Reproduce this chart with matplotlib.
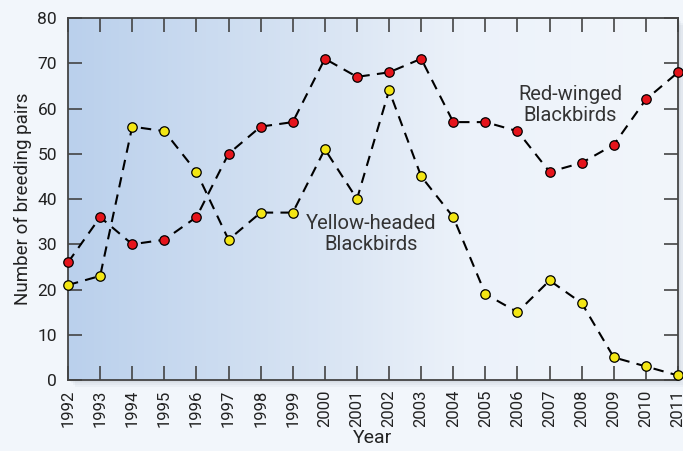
import numpy as np
import matplotlib.pyplot as plt
from matplotlib.patches import Rectangle
from matplotlib.colors import LinearSegmentedColormap

years = list(range(1992, 2012))
red_winged = [26, 36, 30, 31, 36, 50, 56, 57, 71, 67, 68, 71, 57, 57, 55, 46, 48, 52, 62, 68]
yellow_headed = [21, 23, 56, 55, 46, 31, 37, 37, 51, 40, 64, 45, 36, 19, 15, 22, 17, 5, 3, 1]
y_ticks = [0, 10, 20, 30, 40, 50, 60, 70, 80]

plt.rcParams['font.family'] = ['Roboto', 'DejaVu Sans']

BG = "#f2f6fb"
fig = plt.figure(figsize=(6.83, 4.51), dpi=100, facecolor=BG)
ax = fig.add_axes([0.0996, 0.1574, 0.8931, 0.8026])
ax.set_zorder(2)

# soft shadow behind the plot box
for i in range(4):
    off = 0.0025 * (i + 1)
    fig.patches.append(Rectangle((0.0996 + off, 0.1574 - off * 1.5), 0.8931, 0.8026,
                                 transform=fig.transFigure, facecolor="#7a8696",
                                 alpha=0.06, edgecolor="none", zorder=-1))

# gradient background
cmap = LinearSegmentedColormap.from_list(
    "bg", [(0, "#bad0ec"), (0.45, "#dbe6f4"), (0.65, "#ecf2fa"), (1, "#f2f6fb")])
grad = np.linspace(0, 1, 256).reshape(1, -1)
ax.imshow(grad, cmap=cmap, aspect="auto", extent=[1992, 2011, 0, 80], zorder=0)

ax.plot(years, red_winged, ls=(0, (5, 3.5)), color="black", lw=1.5, marker="o",
        ms=6.8, mfc="#e5141b", mec="black", mew=0.9, clip_on=False, zorder=3)
ax.plot(years, yellow_headed, ls=(0, (5, 3.5)), color="black", lw=1.5, marker="o",
        ms=6.8, mfc="#f3e614", mec="black", mew=0.9, clip_on=False, zorder=3)

ax.text(2001.45, 32.2, "Yellow-headed\nBlackbirds", ha="center", va="center",
        fontsize=14.5, color="#333333", linespacing=1.15, zorder=4)
ax.text(2007.65, 60.8, "Red-winged\nBlackbirds", ha="center", va="center",
        fontsize=14.5, color="#333333", linespacing=1.15, zorder=4)

ax.set_xlim(1992, 2011)
ax.set_ylim(0, 80)
ax.set_xticks(years)
ax.set_xticklabels([str(y) for y in years], rotation=90, fontsize=12, color="#222222")
ax.set_yticks(y_ticks)
ax.set_yticklabels([str(v) for v in y_ticks], fontsize=12.5, color="#222222")
ax.tick_params(axis="both", direction="in", length=10, width=1.2, color="#444444",
               top=True, right=True)
ax.tick_params(axis="x", pad=7)
ax.tick_params(axis="y", pad=8)
for s in ax.spines.values():
    s.set_color("#444444")
    s.set_linewidth(1.3)

ax.set_xlabel("Year", fontsize=14, color="#222222", labelpad=1)
ax.set_ylabel("Number of breeding pairs", fontsize=13.5, color="#222222", labelpad=4)

fig.savefig("out.png", dpi=100, facecolor=BG)
